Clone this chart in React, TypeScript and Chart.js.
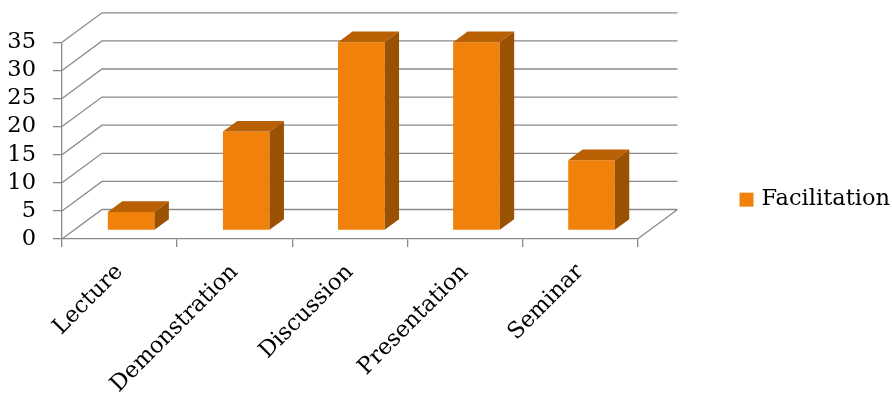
import { useEffect, useRef } from 'react';
import { Chart, registerables } from 'chart.js';

Chart.register(...registerables);

// Data
const categories = ['Lecture', 'Demonstration', 'Discussion', 'Presentation', 'Seminar'];
const seriesLabel = 'Facilitation';
const facilitation = [3.3, 17.6, 33.5, 33.5, 12.5];
const yMin = 0;
const yMax = 35;
const yStep = 5;

// Styling
const FONT_FAMILY = '"DejaVu Serif", "Liberation Serif", serif';
const FONT_SIZE = 22.5;
const FRONT_COLOR = '#F0810A';
const TOP_COLOR = '#B95F04';
const SIDE_COLOR = '#9A5102';
const GRID_COLOR = '#8A8A8A';

// Perspective: offset of the back wall relative to the front plane
const DEPTH_DX = 40;
const DEPTH_DY = -29.5;
// Bars sit between these fractions of the depth
const BAR_FRONT = 0.29;
const BAR_BACK = 0.65;

const wallPlugin = {
  id: 'wall3d',
  beforeDatasetsDraw(chart: any) {
    const { ctx, chartArea, scales } = chart;
    const { left, right, bottom } = chartArea;
    const y = scales.y;
    ctx.save();
    ctx.strokeStyle = GRID_COLOR;
    ctx.lineWidth = 1.3;
    ctx.beginPath();
    y.ticks.forEach((t: any) => {
      const py = y.getPixelForValue(t.value);
      ctx.moveTo(left, py);
      ctx.lineTo(left + DEPTH_DX, py + DEPTH_DY);
      ctx.lineTo(right + DEPTH_DX, py + DEPTH_DY);
    });
    ctx.moveTo(right, bottom);
    ctx.lineTo(right + DEPTH_DX, bottom + DEPTH_DY);
    ctx.stroke();
    ctx.restore();
  },
};

const barPlugin = {
  id: 'bar3d',
  beforeDatasetDraw(chart: any) {
    const ctx = chart.ctx;
    ctx.save();
    ctx.translate(DEPTH_DX * BAR_FRONT, DEPTH_DY * BAR_FRONT);
  },
  afterDatasetDraw(chart: any, args: any) {
    const ctx = chart.ctx;
    ctx.restore();
    const ox = DEPTH_DX * BAR_FRONT;
    const oy = DEPTH_DY * BAR_FRONT;
    const dx = DEPTH_DX * (BAR_BACK - BAR_FRONT);
    const dy = DEPTH_DY * (BAR_BACK - BAR_FRONT);
    ctx.save();
    args.meta.data.forEach((bar: any) => {
      const { x, y, base, width } = bar.getProps(['x', 'y', 'base', 'width'], true);
      const l = x - width / 2 + ox;
      const r = x + width / 2 + ox;
      const t = y + oy;
      const b = base + oy;
      ctx.fillStyle = TOP_COLOR;
      ctx.beginPath();
      ctx.moveTo(l, t);
      ctx.lineTo(l + dx, t + dy);
      ctx.lineTo(r + dx, t + dy);
      ctx.lineTo(r, t);
      ctx.closePath();
      ctx.fill();
      ctx.fillStyle = SIDE_COLOR;
      ctx.beginPath();
      ctx.moveTo(r, t);
      ctx.lineTo(r + dx, t + dy);
      ctx.lineTo(r + dx, b + dy);
      ctx.lineTo(r, b);
      ctx.closePath();
      ctx.fill();
    });
    ctx.restore();
  },
};

const legendPlugin = {
  id: 'sideLegend',
  afterDraw(chart: any) {
    const { ctx, chartArea } = chart;
    const ds = chart.data.datasets[0];
    const boxX = chartArea.right + 102;
    const cy = (chartArea.top + chartArea.bottom) / 2 + 59;
    ctx.save();
    ctx.fillStyle = ds.backgroundColor;
    ctx.fillRect(boxX, cy - 7, 14, 14);
    ctx.fillStyle = '#000';
    ctx.font = `${FONT_SIZE}px ${FONT_FAMILY}`;
    ctx.textAlign = 'left';
    ctx.textBaseline = 'middle';
    ctx.fillText(ds.label, boxX + 22, cy);
    ctx.restore();
  },
};

export default function App() {
  const ref = useRef<HTMLCanvasElement | null>(null);

  useEffect(() => {
    if (!ref.current) return;
    const chart = new Chart(ref.current, {
      type: 'bar',
      data: {
        labels: categories,
        datasets: [
          {
            label: seriesLabel,
            data: facilitation,
            backgroundColor: FRONT_COLOR,
            borderWidth: 0,
            barPercentage: 0.405,
            categoryPercentage: 1,
            clip: false as any,
          },
        ],
      },
      options: {
        animation: false,
        responsive: true,
        maintainAspectRatio: false,
        events: [],
        layout: { padding: { top: 42.3, right: 254.5, left: 0, bottom: 0 } },
        plugins: {
          legend: { display: false },
          tooltip: { enabled: false },
        },
        scales: {
          x: {
            offset: true,
            grid: {
              offset: true,
              drawOnChartArea: false,
              drawTicks: true,
              tickLength: 8,
              color: GRID_COLOR,
              lineWidth: 1.3,
            },
            border: { display: true, color: GRID_COLOR, width: 1.3 },
            ticks: {
              autoSkip: false,
              maxRotation: 45,
              minRotation: 45,
              padding: 12,
              color: '#000',
              font: { family: FONT_FAMILY, size: FONT_SIZE },
            },
            afterFit(scale: any) {
              scale.height = 159;
            },
          },
          y: {
            min: yMin,
            max: yMax,
            grid: {
              drawOnChartArea: false,
              drawTicks: true,
              tickLength: 9,
              color: GRID_COLOR,
              lineWidth: 1.3,
            },
            border: { display: true, color: GRID_COLOR, width: 1.3 },
            ticks: {
              stepSize: yStep,
              autoSkip: false,
              padding: 17,
              color: '#000',
              font: { family: FONT_FAMILY, size: FONT_SIZE },
            },
            afterFit(scale: any) {
              scale.width = 62;
            },
          },
        },
      },
      plugins: [wallPlugin, barPlugin, legendPlugin],
    });
    return () => chart.destroy();
  }, []);

  return (
    <div style={{ position: 'absolute', left: 0, top: 0, width: 892, height: 398 }}>
      <canvas ref={ref} />
    </div>
  );
}
